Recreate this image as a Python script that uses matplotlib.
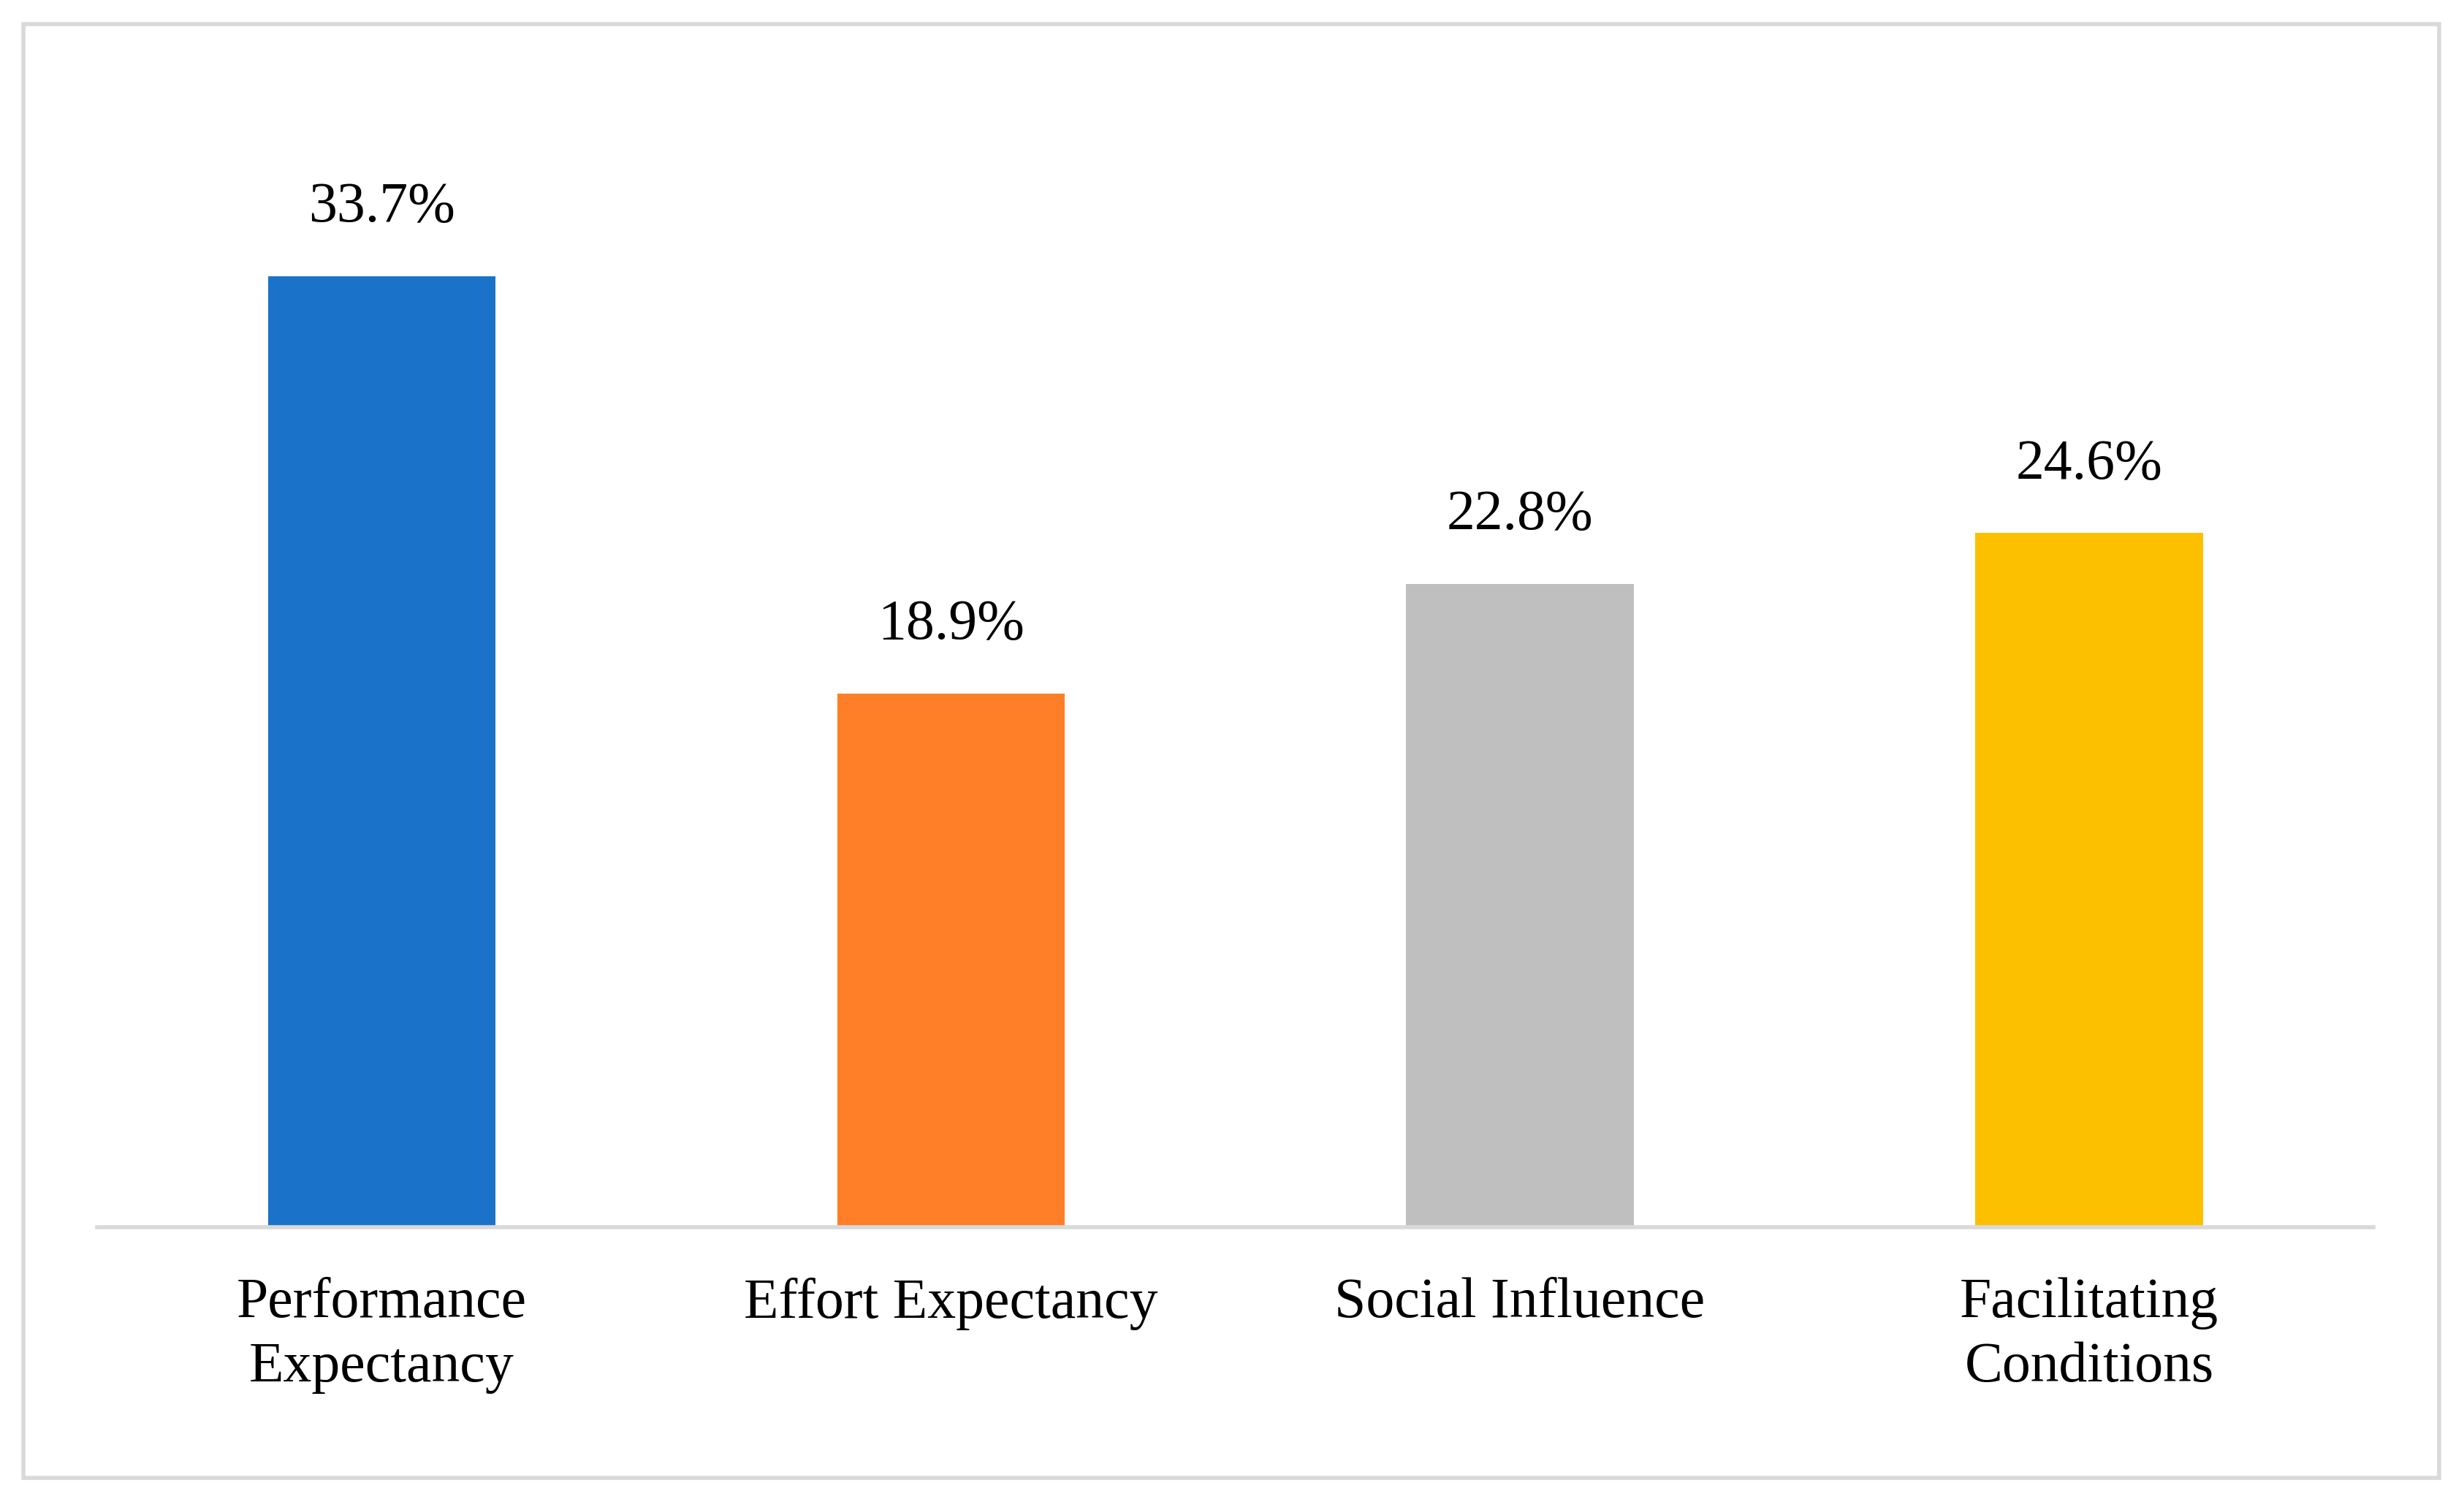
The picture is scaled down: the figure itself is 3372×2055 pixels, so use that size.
import matplotlib.pyplot as plt
from matplotlib.patches import Rectangle

categories = ['Performance\nExpectancy', 'Effort Expectancy', 'Social Influence', 'Facilitating\nConditions']
values = [33.7, 18.9, 22.8, 24.6]
colors = ['#1a73c9', '#fe7f27', '#bfbfbf', '#fdc000']

plt.rcParams['font.family'] = ['Liberation Serif', 'DejaVu Serif']
fig = plt.figure(figsize=(33.73, 20.55), dpi=100)
fig.patches.append(Rectangle((0.0096, 0.016), 0.980, 0.968, transform=fig.transFigure,
                             fill=False, edgecolor='#d9d9d9', linewidth=4))
ax = fig.add_axes([0.0395, 0.1832, 0.9235, 0.751])
x = range(len(values))
ax.bar(x, values, width=0.4, color=colors)
for i, v in enumerate(values):
    ax.text(i, v + 1.5, f'{v}%', ha='center', va='bottom', fontsize=56)
ax.set_xlim(-0.5, 3.5)
ax.set_ylim(0, 40)
ax.set_yticks([])
ax.set_xticks(list(x))
ax.set_xticklabels(categories, fontsize=56, linespacing=1.3, va='top')
ax.tick_params(axis='x', length=0, pad=50)
for s in ['top', 'right', 'left']:
    ax.spines[s].set_visible(False)
ax.spines['bottom'].set_color('#d9d9d9')
ax.spines['bottom'].set_linewidth(4)
fig.savefig('out.png', dpi=100)
